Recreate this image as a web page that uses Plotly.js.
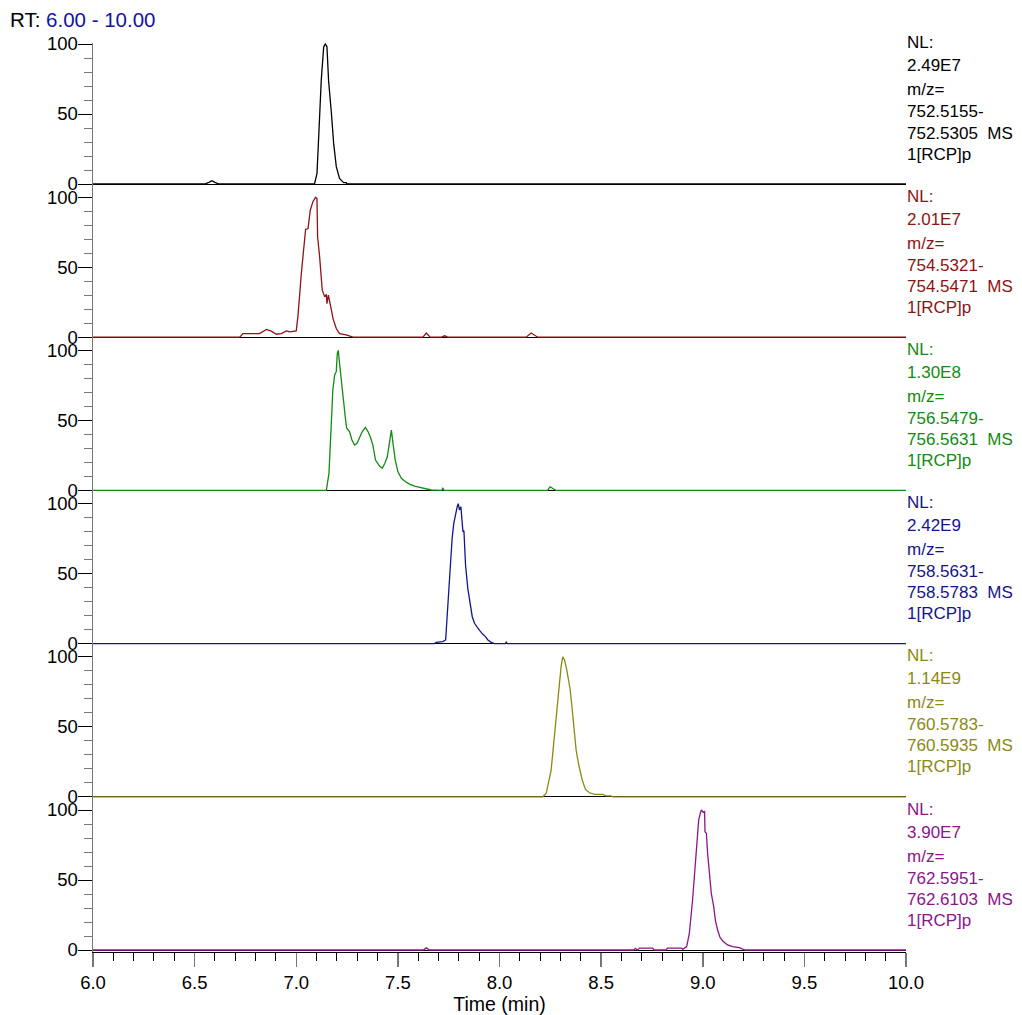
<!DOCTYPE html>
<html>
<head>
<meta charset="utf-8">
<script src="https://cdn.plot.ly/plotly-3.0.1.min.js"></script>
<style>html,body{margin:0;padding:0;background:#fff;}</style>
</head>
<body>
<div id="chart" style="width:1022px;height:1015px;"></div>
<script>
// ---- Data (time in min, relative abundance %) ----
const t1 = [6.0, 6.55, 6.57, 6.585, 6.60, 6.62, 7.09, 7.102, 7.112, 7.123, 7.135, 7.143, 7.151, 7.159, 7.173, 7.184, 7.197, 7.213, 7.233, 7.246, 7.25, 10.0];
const i1 = [0, 0, 1.2, 2.4, 1.2, 0, 0, 7.6, 38.6, 74, 98, 100, 98, 74, 50.5, 29, 12.4, 4, 1, 1, 0, 0];

const t2 = [6.0, 6.722, 6.738, 6.82, 6.853, 6.877, 6.902, 6.927, 6.951, 6.968, 7.0, 7.008, 7.025, 7.046, 7.058, 7.069, 7.082, 7.095, 7.102, 7.105, 7.115, 7.123, 7.128, 7.14, 7.148, 7.151, 7.158, 7.168, 7.181, 7.197, 7.213, 7.246, 7.271, 7.279, 7.623, 7.64, 7.659, 7.715, 7.73, 7.745, 8.131, 8.156, 8.188, 10.0];
const i2 = [0, 0, 2.6, 2.6, 5.5, 4.3, 2.1, 2.6, 4.5, 3.8, 4.5, 14.5, 45.5, 77, 77.6, 90.7, 96.8, 100, 99, 71.7, 57.4, 43, 33.6, 28.8, 30.7, 24, 30, 22.9, 13.3, 6.2, 2.6, 1.7, 0.3, 0, 0, 3, 0, 0, 1, 0, 0, 3, 0, 0];

const t3 = [6.0, 7.148, 7.161, 7.173, 7.180, 7.189, 7.197, 7.202, 7.207, 7.213, 7.223, 7.233, 7.241, 7.248, 7.262, 7.274, 7.287, 7.299, 7.312, 7.325, 7.340, 7.353, 7.364, 7.377, 7.390, 7.410, 7.423, 7.436, 7.448, 7.459, 7.468, 7.476, 7.487, 7.500, 7.517, 7.538, 7.557, 7.582, 7.607, 7.640, 7.664, 7.715, 7.721, 7.727, 8.236, 8.249, 8.277, 10.0];
const i3 = [0, 0, 12.2, 50.3, 71.7, 82.4, 85, 98, 100, 90.8, 76.5, 59.8, 52.6, 44.4, 42, 36, 32.4, 33.6, 37.9, 42, 45, 42, 38.3, 32.4, 21.7, 17.4, 15.8, 19.4, 24, 36, 43.1, 33.6, 21.7, 13.4, 8.6, 6.2, 4.5, 3.1, 2.1, 1.2, 0.3, 0, 1.5, 0, 0, 2.6, 0, 0];

const t4 = [6.0, 7.680, 7.689, 7.721, 7.735, 7.746, 7.758, 7.767, 7.775, 7.784, 7.792, 7.797, 7.803, 7.810, 7.815, 7.820, 7.825, 7.833, 7.844, 7.856, 7.866, 7.877, 7.888, 7.902, 7.918, 7.931, 7.943, 7.959, 7.975, 8.028, 8.033, 8.038, 10.0];
const i4 = [0, 0, 0.9, 1.4, 2.6, 27.6, 58.5, 75.2, 85.9, 93, 97.8, 100, 95.5, 97.8, 87, 80, 80.5, 56, 39.5, 27.6, 19.2, 14.5, 12, 9.5, 6.6, 5, 2.6, 0.9, 0, 0, 1, 0, 0];

const t5 = [6.0, 8.213, 8.230, 8.242, 8.254, 8.262, 8.275, 8.287, 8.295, 8.303, 8.311, 8.320, 8.331, 8.348, 8.358, 8.366, 8.377, 8.390, 8.407, 8.423, 8.443, 8.467, 8.508, 8.524, 8.549, 8.557, 10.0];
const i5 = [0, 0, 2.5, 10.8, 19.1, 31, 50, 69, 83.4, 93, 100, 97.8, 90.6, 76.3, 62, 50, 33.4, 22.7, 12, 5.3, 2.9, 1.7, 1.7, 0.7, 0.7, 0, 0];

const t6 = [6.0, 7.625, 7.64, 7.655, 8.66, 8.669, 8.678, 8.689, 8.753, 8.76, 8.82, 8.826, 8.895, 8.901, 8.921, 8.934, 8.950, 8.964, 8.975, 8.980, 8.988, 8.993, 9.003, 9.009, 9.011, 9.018, 9.024, 9.032, 9.042, 9.054, 9.062, 9.073, 9.085, 9.101, 9.122, 9.147, 9.180, 9.200, 9.21, 10.0];
const i6 = [0, 0, 1.5, 0, 0, 1.2, 0, 1.4, 1.4, 0, 0, 1.4, 1.4, 0.5, 2.4, 11.9, 35.7, 59.5, 83.3, 92.9, 97.6, 100, 98.3, 98.8, 84.5, 83.3, 69, 54.8, 40.5, 31, 21.4, 14.3, 9, 6, 3.6, 2.4, 1.7, 0.5, 0, 0];

const times = [t1, t2, t3, t4, t5, t6];
const intensities = [i1, i2, i3, i4, i5, i6];
const colors = ['#000000', '#8c1414', '#138a13', '#14148c', '#8a8a14', '#8c148c'];
const nlValues = ['2.49E7', '2.01E7', '1.30E8', '2.42E9', '1.14E9', '3.90E7'];
const mzLow = ['752.5155-', '754.5321-', '756.5479-', '758.5631-', '760.5783-', '762.5951-'];
const mzHigh = ['752.5305', '754.5471', '756.5631', '758.5783', '760.5935', '762.6103'];
const yTickVals = [0, 50, 100];
const xTitle = 'Time (min)';
const rtLabel = 'RT:';
const rtRange = '6.00 - 10.00';

// ---- Geometry ----
const W = 1022, H = 1015;
const M = {l: 93, r: 116, t: 30, b: 63};
const plotH = H - M.t - M.b;
const plotW = W - M.l - M.r;
const fy = py => (H - M.b - py) / plotH;
const fx = px => (px - M.l) / plotW;
const zero0 = 184, step = 153.2, ppu = 1.4; // pixel of zero line, panel step, pixels per %
const FONT = '"Liberation Sans", Arial, sans-serif';

const traces = [];
const layout = {
  width: W, height: H, margin: M, showlegend: false,
  paper_bgcolor: '#fff', plot_bgcolor: '#fff',
  font: {family: FONT, size: 18, color: '#000'},
  xaxis: {
    range: [6, 10], anchor: 'y6', domain: [0, 1],
    showline: true, linecolor: '#000', linewidth: 1,
    ticks: 'outside', ticklen: 14, tickwidth: 1.5, tickcolor: '#777',
    tick0: 6, dtick: 0.5, tickformat: '.1f',
    minor: {ticks: 'outside', dtick: 0.1, tick0: 6, ticklen: 8, tickcolor: '#000', tickwidth: 1},
    showgrid: false, zeroline: false,
    tickfont: {size: 18.5, family: FONT},
    title: {text: xTitle, font: {size: 19.5, family: FONT}, standoff: 2}
  },
  annotations: []
};

for (let k = 0; k < 6; k++) {
  const zero = zero0 + step * k;
  const topPx = k === 0 ? zero - 141 : zero0 + step * (k - 1) + 1.68;
  const botPx = zero + 1.68;
  const yname = k === 0 ? 'y' : 'y' + (k + 1);
  const lname = k === 0 ? 'yaxis' : 'yaxis' + (k + 1);
  layout[lname] = {
    domain: [Math.max(0, fy(botPx)), Math.min(1, fy(topPx))],
    range: [-1.2, (zero - topPx) / ppu],
    anchor: 'x',
    showline: true, linecolor: '#777', linewidth: 1.5,
    ticks: 'outside', ticklen: 14, tickwidth: 1, tickcolor: '#000',
    tickvals: yTickVals, ticktext: yTickVals.map(String),
    ticklabelstandoff: -4,
    minor: {ticks: 'outside', dtick: 10, tick0: 0, ticklen: 8, tickcolor: '#777', tickwidth: 1},
    showgrid: false, zeroline: true, zerolinecolor: '#000', zerolinewidth: 1,
    tickfont: {size: 18.5, family: FONT}
  };
  traces.push({
    x: times[k], y: intensities[k], type: 'scatter', mode: 'lines',
    xaxis: 'x', yaxis: yname,
    line: {color: colors[k], width: 1.3}, hoverinfo: 'skip'
  });
  const lines = ['NL:', nlValues[k], 'm/z=', mzLow[k], mzHigh[k] + '\u00A0\u00A0MS', '1[RCP]p'];
  const centers = [43, 66, 90, 112, 133, 154];
  lines.forEach((txt, j) => {
    layout.annotations.push({
      xref: 'paper', yref: 'paper', x: fx(905), y: fy(centers[j] + step * k),
      xanchor: 'left', yanchor: 'middle', showarrow: false,
      text: txt, font: {size: 17, family: FONT, color: colors[k]}
    });
  });
}

layout.annotations.push({
  xref: 'paper', yref: 'paper', x: fx(8), y: fy(20),
  xanchor: 'left', yanchor: 'middle', showarrow: false,
  text: rtLabel + ' <span style="color:#1414a0">' + rtRange + '</span>',
  font: {size: 20.5, family: FONT, color: '#000'}
});

Plotly.newPlot('chart', traces, layout, {staticPlot: true, displayModeBar: false});
</script>
</body>
</html>
